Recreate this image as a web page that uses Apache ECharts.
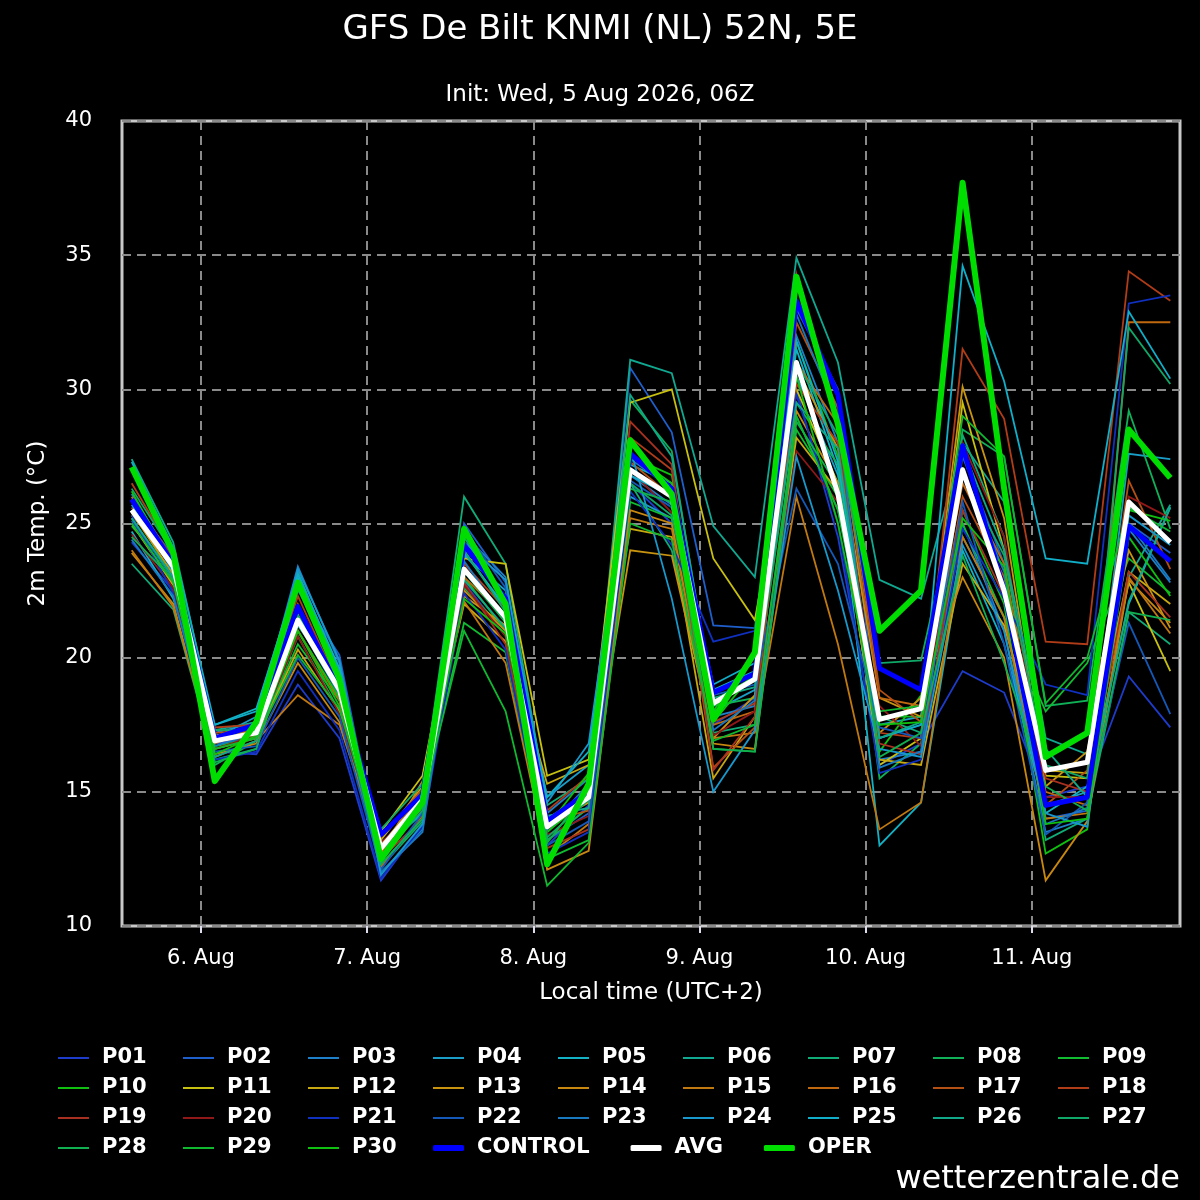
<!DOCTYPE html>
<html>
<head>
<meta charset="utf-8">
<title>GFS De Bilt ensemble</title>
<script src="https://cdn.jsdelivr.net/npm/echarts@6/dist/echarts.min.js"></script>
<style>
  html, body { margin: 0; padding: 0; background: #000; }
  #chart { width: 1200px; height: 1200px; }
</style>
</head>
<body>
<div id="chart"></div>
<script>
// hours since 5 Aug 00:00 local time, one point every 6 h
const HOURS = [14, 20, 26, 32, 38, 44, 50, 56, 62, 68, 74, 80, 86, 92, 98, 104, 110, 116, 122, 128, 134, 140, 146, 152, 158, 164];
const DAY_TICKS = [24, 48, 72, 96, 120, 144];
const DAY_LABELS = ['6. Aug', '7. Aug', '8. Aug', '9. Aug', '10. Aug', '11. Aug'];

// ensemble members, 2m temperature (°C)
const P01 = [24.3, 22.5, 16.5, 16.4, 19.0, 17.0, 11.7, 13.8, 22.8, 20.8, 13.0, 14.5, 26.5, 25.0, 17.5, 18.5, 30.0, 24.5, 16.0, 16.8, 19.5, 18.7, 14.8, 15.2, 19.3, 17.4];
const P02 = [25.8, 23.8, 16.8, 17.0, 22.5, 20.1, 12.3, 14.0, 25.0, 22.8, 13.2, 14.2, 30.8, 28.4, 21.2, 21.1, 33.0, 30.0, 17.0, 17.5, 27.5, 23.5, 14.0, 14.3, 25.0, 23.9];
const P03 = [26.1, 23.6, 17.2, 17.6, 23.4, 19.8, 12.0, 13.6, 24.6, 23.0, 14.2, 15.5, 26.8, 25.7, 17.8, 18.2, 32.0, 28.0, 16.2, 16.5, 25.0, 21.0, 13.5, 14.0, 24.8, 22.8];
const P04 = [25.0, 22.8, 17.0, 17.8, 22.9, 19.5, 12.5, 14.5, 23.8, 22.5, 14.8, 16.0, 26.0, 25.2, 18.0, 18.8, 30.5, 26.8, 17.5, 17.8, 24.5, 21.5, 14.5, 15.0, 27.6, 27.4];
const P05 = [24.7, 22.2, 17.5, 18.1, 23.0, 19.0, 12.8, 14.2, 24.0, 21.8, 14.0, 15.0, 27.2, 26.5, 18.8, 19.5, 31.5, 27.0, 13.0, 14.6, 24.0, 20.5, 14.2, 15.2, 22.0, 25.6];
const P06 = [27.4, 24.3, 17.3, 17.6, 23.2, 19.4, 13.0, 14.8, 24.5, 22.0, 13.5, 15.0, 31.1, 30.6, 24.9, 23.0, 34.9, 31.0, 22.9, 22.2, 28.0, 25.8, 17.0, 16.4, 23.0, 25.7];
const P07 = [23.5, 21.8, 16.2, 16.6, 21.2, 19.0, 13.4, 15.0, 26.0, 23.5, 14.5, 15.5, 26.5, 24.0, 17.2, 17.5, 29.0, 25.5, 17.8, 17.2, 28.3, 24.5, 13.2, 14.0, 21.7, 20.5];
const P08 = [25.2, 22.9, 16.0, 16.9, 20.8, 18.0, 12.2, 13.9, 22.6, 21.0, 13.2, 14.4, 29.6, 27.7, 18.2, 18.5, 29.5, 27.2, 15.5, 16.8, 28.5, 27.5, 18.2, 18.4, 29.2, 24.8];
const P09 = [24.9, 23.2, 16.7, 17.0, 20.5, 18.4, 12.6, 14.6, 21.3, 20.2, 12.5, 13.2, 25.8, 25.2, 16.6, 16.5, 28.5, 26.0, 17.8, 17.8, 25.0, 21.5, 18.0, 19.8, 23.7, 22.4];
const P10 = [25.5, 23.0, 16.9, 17.4, 21.0, 18.2, 12.4, 14.4, 23.0, 21.0, 13.5, 14.8, 27.5, 26.8, 18.0, 20.2, 31.8, 27.5, 16.5, 18.6, 25.5, 22.0, 12.7, 13.6, 25.5, 25.1];
const P11 = [25.3, 23.6, 17.1, 17.3, 21.6, 18.6, 13.5, 15.6, 23.7, 23.5, 15.6, 16.2, 29.5, 30.0, 23.7, 21.4, 30.0, 26.5, 16.0, 17.0, 29.5, 24.0, 15.6, 15.5, 22.8, 19.5];
const P12 = [25.0, 22.7, 16.6, 17.0, 20.3, 18.0, 13.2, 15.2, 22.0, 20.6, 15.3, 16.0, 24.8, 24.5, 15.5, 17.8, 28.2, 26.2, 16.2, 16.0, 23.5, 21.2, 15.8, 15.7, 23.2, 22.0];
const P13 = [25.4, 23.1, 17.0, 17.2, 21.9, 19.1, 13.0, 14.9, 22.3, 21.2, 13.8, 14.6, 24.0, 23.8, 17.0, 18.6, 30.8, 27.8, 18.5, 17.8, 30.1, 25.2, 15.2, 16.5, 24.0, 21.1];
const P14 = [23.9, 22.0, 16.4, 16.8, 19.8, 17.6, 12.7, 15.4, 22.5, 21.0, 12.1, 12.8, 25.5, 25.0, 16.8, 16.6, 29.2, 26.5, 17.2, 18.5, 23.0, 20.0, 11.7, 13.9, 22.9, 21.3];
const P15 = [24.0, 21.9, 16.3, 16.9, 18.6, 17.5, 12.8, 15.0, 22.1, 19.8, 12.6, 13.8, 25.2, 24.8, 17.0, 17.2, 26.0, 20.5, 13.6, 14.6, 24.5, 21.5, 14.0, 14.2, 23.0, 20.9];
const P16 = [26.0, 23.5, 16.8, 17.4, 21.0, 18.4, 12.2, 14.1, 23.0, 21.5, 13.6, 15.2, 28.0, 26.2, 17.5, 18.0, 31.0, 28.7, 18.5, 18.2, 26.5, 23.5, 15.0, 14.5, 32.5, 32.5];
const P17 = [25.6, 23.3, 17.2, 17.3, 22.0, 19.0, 13.3, 15.1, 24.2, 22.1, 13.9, 14.3, 27.3, 26.0, 15.9, 17.4, 32.5, 29.3, 18.8, 17.6, 26.0, 23.0, 14.5, 15.8, 26.6, 23.3];
const P18 = [26.5, 23.9, 17.4, 17.5, 22.3, 18.9, 13.1, 14.5, 23.5, 21.8, 14.3, 15.6, 28.2, 27.0, 17.6, 18.3, 30.2, 28.0, 17.2, 17.0, 31.5, 28.9, 20.6, 20.5, 34.4, 33.3];
const P19 = [25.9, 23.7, 16.9, 17.0, 22.8, 19.3, 12.5, 14.0, 22.8, 20.5, 12.9, 13.6, 28.8, 27.2, 15.8, 17.8, 34.3, 28.5, 16.8, 16.4, 25.5, 22.3, 15.5, 15.0, 23.2, 21.5];
const P20 = [24.6, 22.6, 16.6, 17.1, 20.8, 17.9, 12.9, 14.3, 22.7, 20.8, 13.4, 14.1, 27.0, 25.4, 17.1, 18.0, 27.7, 25.8, 18.2, 16.7, 28.0, 24.5, 14.8, 14.8, 26.0, 25.2];
const P21 = [25.3, 22.4, 16.2, 16.5, 19.5, 17.3, 11.8, 13.7, 22.4, 20.3, 12.7, 13.5, 26.2, 24.2, 20.6, 21.0, 29.8, 25.0, 15.7, 16.2, 24.8, 22.2, 19.0, 18.6, 33.2, 33.5];
const P22 = [25.1, 23.0, 16.5, 16.7, 20.0, 17.8, 12.1, 14.2, 24.8, 22.6, 13.0, 13.9, 26.6, 25.6, 18.6, 19.0, 26.3, 23.5, 17.4, 17.0, 25.8, 20.5, 13.4, 14.6, 21.3, 17.9];
const P23 = [24.4, 22.3, 16.7, 17.2, 21.3, 18.6, 12.0, 13.5, 23.6, 21.4, 13.6, 15.3, 27.4, 26.3, 17.3, 18.4, 32.8, 29.0, 15.9, 16.5, 27.0, 23.2, 13.8, 14.4, 25.0, 22.9];
const P24 = [25.7, 23.2, 16.9, 17.5, 23.3, 19.9, 11.9, 13.8, 24.3, 22.9, 14.6, 16.8, 27.8, 22.2, 15.0, 17.3, 27.5, 22.5, 16.6, 16.3, 24.2, 21.0, 14.2, 13.7, 25.3, 24.2];
const P25 = [27.3, 24.1, 17.5, 18.0, 23.1, 19.6, 12.4, 14.6, 23.9, 21.9, 14.8, 16.5, 26.8, 26.0, 19.0, 19.8, 31.8, 27.3, 17.0, 17.5, 34.6, 30.3, 23.7, 23.5, 32.9, 30.4];
const P26 = [25.2, 23.0, 16.3, 16.9, 22.6, 19.2, 12.6, 14.3, 22.9, 21.1, 14.1, 14.4, 29.8, 27.5, 18.5, 18.9, 29.5, 27.8, 17.0, 17.6, 27.8, 24.0, 16.6, 14.8, 22.1, 25.6];
const P27 = [26.3, 23.9, 17.3, 17.3, 21.8, 18.7, 13.6, 15.3, 24.0, 21.7, 13.3, 14.7, 26.5, 25.3, 18.4, 19.3, 31.0, 28.3, 19.8, 19.9, 26.8, 23.8, 16.0, 15.5, 32.3, 30.2];
const P28 = [24.5, 22.9, 16.1, 16.6, 21.6, 18.9, 12.3, 14.0, 23.2, 21.3, 13.1, 15.1, 26.3, 25.8, 16.6, 16.5, 28.8, 26.4, 16.3, 17.2, 23.8, 19.8, 15.2, 14.3, 21.7, 21.4];
const P29 = [25.0, 22.8, 16.6, 17.0, 20.1, 18.1, 12.9, 14.7, 21.0, 18.0, 11.5, 13.1, 25.0, 24.4, 16.9, 17.5, 29.0, 25.5, 18.0, 18.2, 29.0, 27.5, 18.3, 20.0, 25.6, 24.7];
const P30 = [26.2, 23.4, 16.4, 17.1, 21.0, 18.5, 12.6, 14.7, 22.2, 20.9, 13.7, 15.7, 27.6, 26.5, 17.6, 19.5, 30.5, 25.0, 17.5, 17.6, 25.2, 23.4, 13.8, 14.0, 24.5, 22.3];

const CONTROL = [25.9, 23.5, 17.0, 17.5, 21.9, 18.8, 13.4, 14.9, 24.2, 22.2, 13.9, 15.0, 27.6, 26.3, 18.7, 19.4, 33.3, 29.8, 19.6, 18.8, 27.9, 22.5, 14.5, 14.8, 24.9, 23.6];
const AVG = [25.5, 23.4, 16.9, 17.2, 21.4, 18.8, 12.9, 14.7, 23.3, 21.5, 13.7, 14.8, 27.0, 26.0, 18.3, 19.2, 31.0, 26.1, 17.7, 18.1, 27.0, 22.5, 15.8, 16.1, 25.8, 24.3];
const OPER = [27.1, 23.9, 15.4, 17.6, 22.8, 19.2, 12.5, 14.6, 24.8, 22.0, 12.3, 15.3, 28.1, 26.1, 17.7, 20.2, 34.2, 28.7, 21.0, 22.5, 37.7, 26.3, 16.3, 17.2, 28.5, 26.7];

const MEMBERS = [P01, P02, P03, P04, P05, P06, P07, P08, P09, P10, P11, P12, P13, P14, P15,
                 P16, P17, P18, P19, P20, P21, P22, P23, P24, P25, P26, P27, P28, P29, P30];
const MEMBER_COLORS = [
    '#1e3ccc', '#1e5fcc', '#1e80c8', '#1a9ec8', '#12b2c4', '#10a890', '#10ac78', '#10b058', '#10bc30', '#10c010',
    '#c8c010', '#c8a810', '#c89410', '#c88810', '#c07810', '#c06810', '#b45014', '#b03c18', '#a83020', '#901818',
    '#1030c0', '#1458b8', '#1878c0', '#1898cc', '#10aec8', '#10a888', '#10a868', '#10b050', '#10b830', '#10c010'
];

const FONT = 'DejaVu Sans';
const chart = echarts.init(document.getElementById('chart'));

const toPoints = arr => HOURS.map((h, i) => [h, arr[i]]);
const names = MEMBERS.map((_, i) => 'P' + String(i + 1).padStart(2, '0'));

const series = MEMBERS.map((arr, i) => ({
    name: names[i],
    type: 'line',
    data: toPoints(arr),
    showSymbol: false,
    symbol: 'none',
    itemStyle: { color: MEMBER_COLORS[i] },
    lineStyle: { width: 1.8, color: MEMBER_COLORS[i], join: 'miter' },
    silent: true
}));
series.push(
    { name: 'CONTROL', type: 'line', data: toPoints(CONTROL), symbol: 'none',
      itemStyle: { color: '#0000ff' }, lineStyle: { width: 5, color: '#0000ff', join: 'round' } },
    { name: 'AVG', type: 'line', data: toPoints(AVG), symbol: 'none',
      itemStyle: { color: '#ffffff' }, lineStyle: { width: 5, color: '#ffffff', join: 'round' } },
    { name: 'OPER', type: 'line', data: toPoints(OPER), symbol: 'none',
      itemStyle: { color: '#00dd00' }, lineStyle: { width: 6, color: '#00dd00', join: 'round' } }
);

// one legend per column, so the columns line up like a table
const legendText = { color: '#fff', fontFamily: FONT, fontWeight: 'bold', fontSize: 21, padding: [0, 0, 0, 8], lineHeight: 24 };
const legends = [];
for (let c = 0; c < 9; c++) {
    const colNames = [names[c], names[c + 9], names[c + 18]];
    if (c + 27 < 30) colNames.push(names[c + 27]);
    legends.push({
        orient: 'vertical', left: 58 + 125 * c, top: 1046, padding: 0,
        itemWidth: 31, itemHeight: 2, itemGap: 6, icon: 'rect',
        selectedMode: false, data: colNames, textStyle: legendText
    });
}
legends.push({
    orient: 'horizontal', left: 433, top: 1136, padding: 0,
    itemWidth: 31, itemHeight: 6, itemGap: 41, icon: 'roundRect',
    selectedMode: false, data: ['CONTROL', 'AVG', 'OPER'], textStyle: legendText
});

const option = {
    backgroundColor: '#000',
    animation: false,
    title: [
        { text: 'GFS De Bilt KNMI (NL) 52N, 5E', left: 'center', top: 8,
          textStyle: { color: '#fff', fontFamily: FONT, fontWeight: 'normal', fontSize: 34 } },
        { text: 'Init: Wed, 5 Aug 2026, 06Z', left: 'center', top: 79,
          textStyle: { color: '#fff', fontFamily: FONT, fontWeight: 'normal', fontSize: 23 } }
    ],
    legend: legends,
    grid: {
        left: 122, right: 20, top: 121, bottom: 274,
        show: true, backgroundColor: '#000', borderColor: '#c8c8c8', borderWidth: 3
    },
    xAxis: {
        type: 'value', min: 12.6, max: 165.4,
        name: 'Local time (UTC+2)', nameLocation: 'middle', nameGap: 56,
        nameTextStyle: { color: '#fff', fontFamily: FONT, fontSize: 23 },
        axisLine: { show: false },
        axisTick: { show: true, customValues: DAY_TICKS, length: 7, lineStyle: { color: '#dde', width: 2 } },
        axisLabel: {
            customValues: DAY_TICKS, color: '#fff', fontFamily: FONT, fontSize: 21, margin: 22,
            formatter: v => DAY_LABELS[DAY_TICKS.indexOf(v)] || ''
        },
        splitLine: { show: true, lineStyle: { color: '#8a8a8a', width: 2, type: [9, 6] } }
    },
    yAxis: {
        type: 'value', min: 10, max: 40, interval: 5,
        name: '2m Temp. (°C)', nameLocation: 'middle', nameGap: 72, nameRotate: 90,
        nameTextStyle: { color: '#fff', fontFamily: FONT, fontSize: 23 },
        axisLine: { show: false },
        axisTick: { show: false },
        axisLabel: { color: '#fff', fontFamily: FONT, fontSize: 21, margin: 30, padding: [6, 0, 0, 0] },
        splitLine: { show: true, lineStyle: { color: '#8a8a8a', width: 2, type: [9, 6] } }
    },
    graphic: [{
        type: 'text', right: 20, bottom: 4,
        style: { text: 'wetterzentrale.de', fill: '#fff', font: '32px "DejaVu Sans"' }
    }],
    series: series
};

chart.setOption(option);
</script>
</body>
</html>
